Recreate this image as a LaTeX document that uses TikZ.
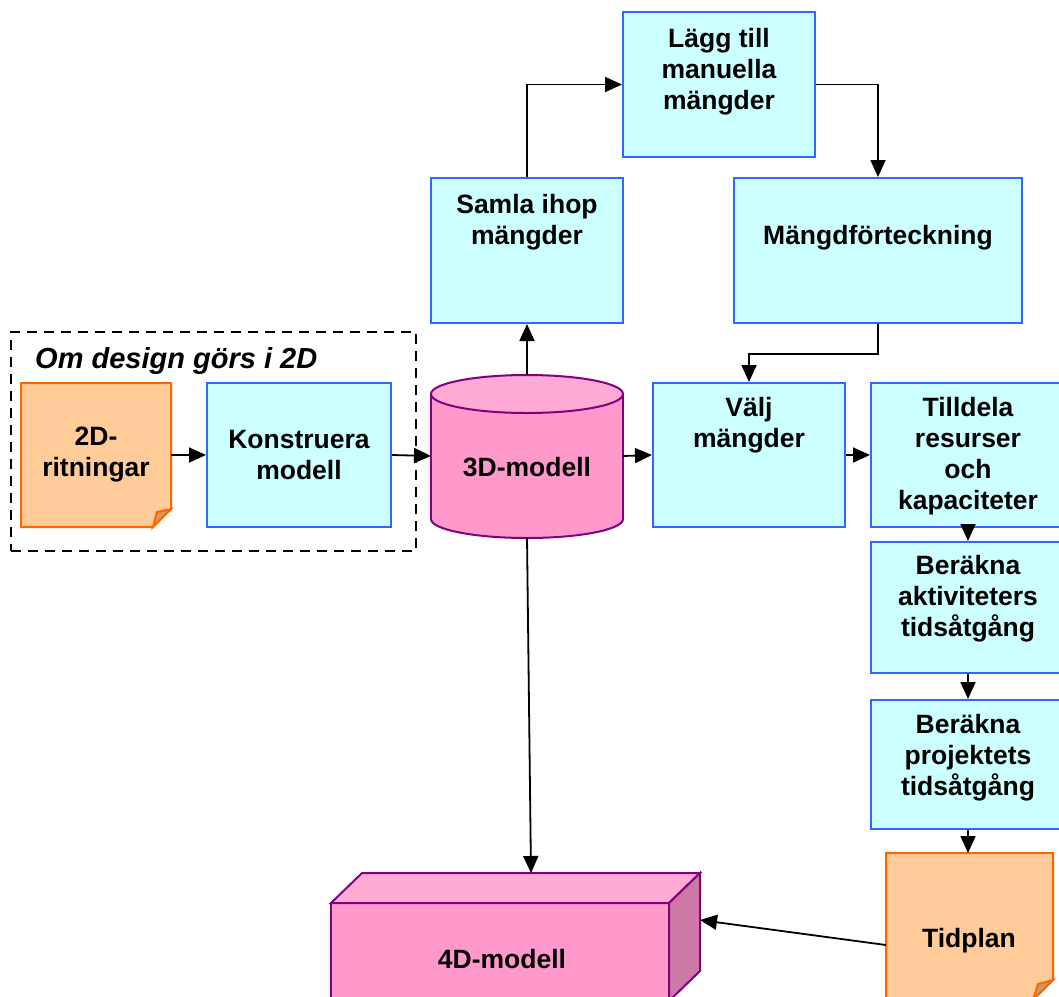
\documentclass[tikz,border=0pt]{standalone}
\usepackage{fontspec}
\setmainfont{Liberation Sans}
\usetikzlibrary{arrows.meta,calc}

\definecolor{boxfill}{HTML}{CCFFFF}
\definecolor{boxline}{HTML}{3366FF}
\definecolor{docfill}{HTML}{FFCC99}
\definecolor{docline}{HTML}{FF6600}
\definecolor{docfold}{HTML}{CC9966}
\definecolor{pinkfill}{HTML}{FF99CC}
\definecolor{pinktop}{HTML}{FFAAD4}
\definecolor{pinkside}{HTML}{CC79A6}
\definecolor{purpleline}{HTML}{800080}

\tikzset{
  procbox/.style={rectangle, draw=boxline, fill=boxfill, line width=2pt, inner sep=0pt},
  area/.style={rectangle, inner sep=0pt, outer sep=0pt},
  txt/.style={font=\bfseries\fontsize{26.5}{31}\selectfont, align=center, inner sep=0pt},
  flow/.style={line width=1.8pt, -{Triangle[length=17pt,width=15pt]}},
  docshape/.style={draw=docline, fill=docfill, line width=2pt, line join=miter},
  solidshape/.style={draw=purpleline, line width=2pt, line join=miter},
  groupframe/.style={rectangle, draw=black, line width=2.4pt, dash pattern=on 10pt off 7pt, inner sep=0pt},
}

\begin{document}
\begin{tikzpicture}[x=1pt, y=-1pt]
\useasboundingbox (0,0) rectangle (1059,996);
\clip (0,0) rectangle (1059,996);

% dashed group for the 2D route
\node[groupframe, minimum width=405pt, minimum height=219pt] (grp) at (213.5,441.5) {};
\node[anchor=west, font=\bfseries\itshape\fontsize{29}{34}\selectfont, inner sep=0pt]
  (grptitle) at (35,361) {Om design görs i 2D};

% process boxes
\node[procbox, minimum width=192pt, minimum height=145pt] (lagg)  at (719,84.5)  {};
\node[procbox, minimum width=192pt, minimum height=145pt] (samla) at (527,250.5) {};
\node[procbox, minimum width=288pt, minimum height=145pt] (mangd) at (878,250.5) {};
\node[procbox, minimum width=184pt, minimum height=144pt] (konst) at (299,455)   {};
\node[procbox, minimum width=192pt, minimum height=144pt] (valj)  at (749,455)   {};
\node[procbox, minimum width=194pt, minimum height=144pt] (till)  at (968,455)   {};
\node[procbox, minimum width=194pt, minimum height=131pt] (bakt)  at (968,607.5) {};
\node[procbox, minimum width=194pt, minimum height=129pt] (bproj) at (968,764.5) {};

\node[txt] at (719,72)  {Lägg till\\manuella\\mängder};
\node[txt] at (527,222) {Samla ihop\\mängder};
\node[txt] at (878,238) {Mängdförteckning};
\node[txt] at (299,455) {Konstruera\\modell};
\node[txt] at (749,425) {Välj\\mängder};
\node[txt] at (968,456) {Tilldela\\resurser\\och\\kapaciteter};
\node[txt] at (968,599) {Beräkna\\aktiviteters\\tidsåtgång};
\node[txt] at (968,758) {Beräkna\\projektets\\tidsåtgång};

% documents with a folded corner
\node[area, minimum width=150pt, minimum height=144pt] (ritn) at (96,455) {};
\draw[docshape] (ritn.north west) -- (ritn.north east) -- ([yshift=18pt]ritn.south east)
  -- ([xshift=-18pt]ritn.south east) -- (ritn.south west) -- cycle;
\draw[docshape, fill=docfold] ([xshift=-18pt]ritn.south east) -- ([xshift=-14pt,yshift=15pt]ritn.south east)
  -- ([yshift=18pt]ritn.south east) -- cycle;
\node[txt] at (96,455) {2D-\\ritningar};

\node[area, minimum width=167pt, minimum height=147pt] (tid) at (969.5,926.5) {};
\draw[docshape] (tid.north west) -- (tid.north east) -- ([yshift=20pt]tid.south east)
  -- ([xshift=-20pt]tid.south east) -- (tid.south west) -- cycle;
\draw[docshape, fill=docfold] ([xshift=-20pt]tid.south east) -- ([xshift=-15pt,yshift=16pt]tid.south east)
  -- ([yshift=20pt]tid.south east) -- cycle;
\node[txt] at (969,941) {Tidplan};

% 3D model database cylinder
\node[area, minimum width=192pt, minimum height=162pt] (cyl) at (527,456) {};
\filldraw[fill=pinkfill, solidshape] (527,519) ellipse[x radius=96pt, y radius=19pt];
\fill[pinkfill] (431,394) rectangle (623,519);
\draw[solidshape] (431,394) -- (431,519) (623,394) -- (623,519);
\filldraw[fill=pinktop, solidshape] (527,394) ellipse[x radius=96pt, y radius=19pt];
\node[txt] at (527,467) {3D-modell};

% 4D model block
\node[area, minimum width=338pt, minimum height=98pt] (fourd) at (500,952) {};
\filldraw[fill=pinkfill, solidshape] (fourd.north west) rectangle (fourd.south east);
\filldraw[fill=pinktop, solidshape] (fourd.north west) -- ++(31,-30)
  -- ($(fourd.north east)+(31,-30)$) -- (fourd.north east) -- cycle;
\filldraw[fill=pinkside, solidshape] (fourd.north east) -- ++(31,-30)
  -- ($(fourd.south east)+(31,-30)$) -- (fourd.south east) -- cycle;
\node[txt] at (502,959) {4D-modell};
\coordinate (fourdtop) at (531,873);
\coordinate (fourdside) at (700,920);
\coordinate (tidout) at ($(tid.west)+(0,18.5)$);

% connectors
\draw[flow] (ritn.east) -- (konst.west);
\draw[flow] (konst.east) -- (cyl.west);
\draw[flow] (cyl.north) -- (samla.south);
\draw[flow] (samla.north) |- (lagg.west);
\draw[flow] (lagg.east) -| (mangd.north);
\draw[flow] (mangd.south) -- ++(0,30) -| (valj.north);
\draw[flow] (cyl.east) -- (valj.west);
\draw[flow] (valj.east) -- (till.west);
\draw[flow] (till.south) -- (bakt.north);
\draw[flow] (bakt.south) -- (bproj.north);
\draw[flow] (bproj.south) -- (bproj.south |- tid.north);
\draw[flow] (cyl.south) -- (fourdtop);
\draw[flow] (tidout) -- (fourdside);
\end{tikzpicture}
\end{document}
